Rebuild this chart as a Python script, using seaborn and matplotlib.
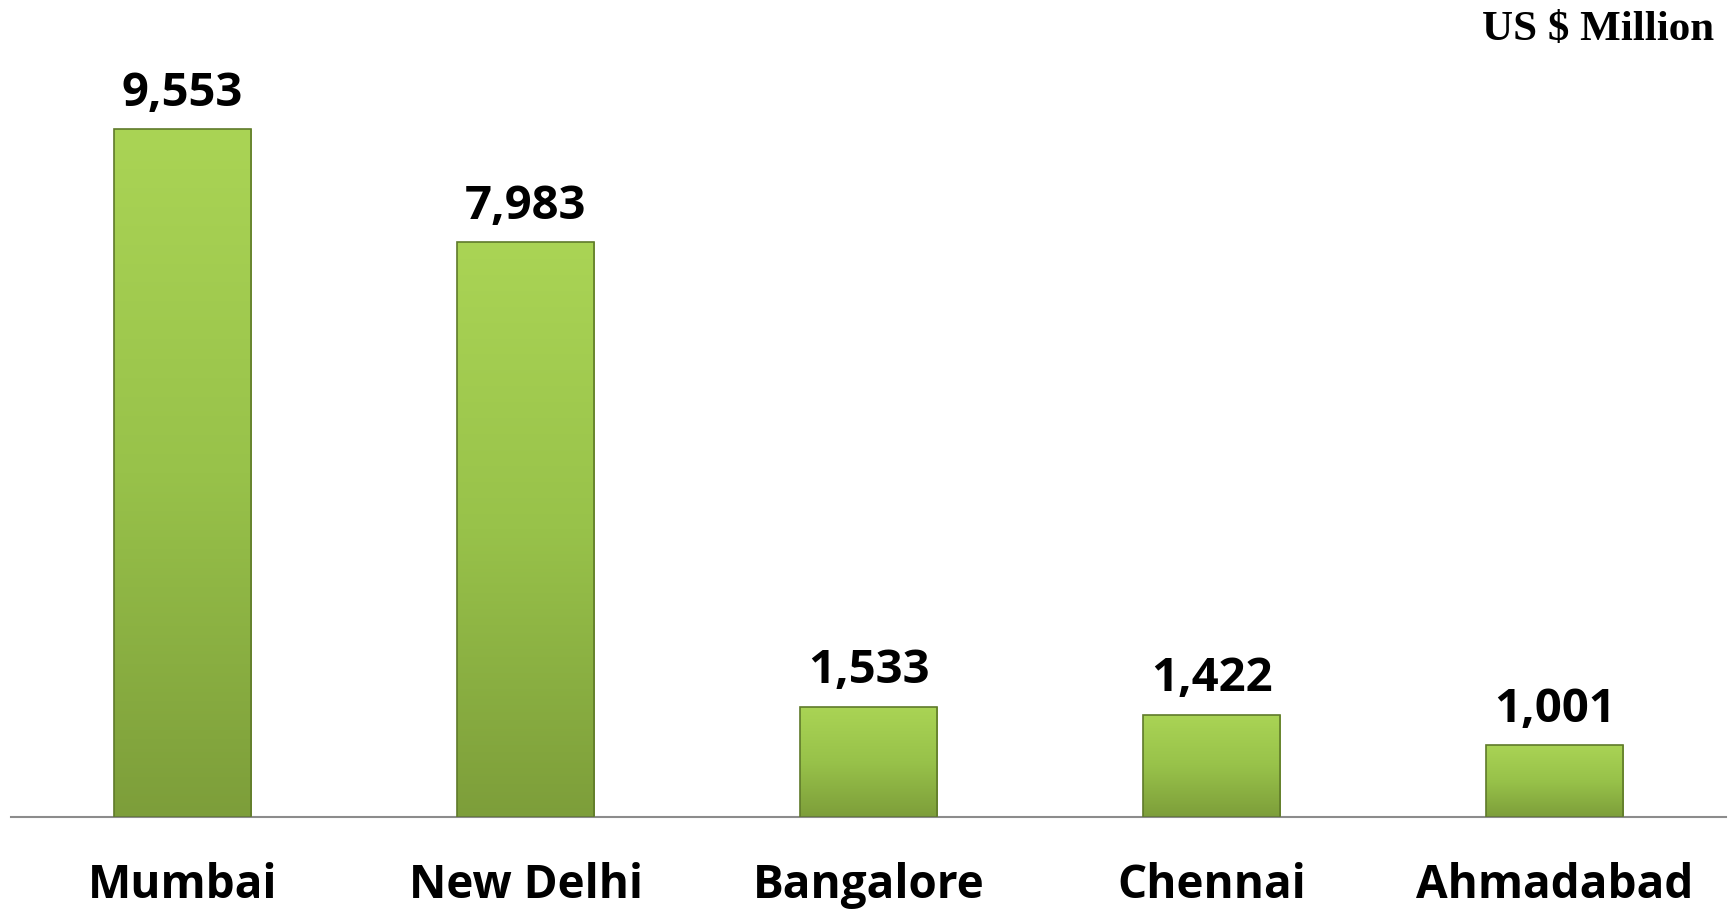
import numpy as np
import pandas as pd
import seaborn as sns
import matplotlib.pyplot as plt
from matplotlib.colors import LinearSegmentedColormap

# Data
cities = ['Mumbai', 'New Delhi', 'Bangalore', 'Chennai', 'Ahmadabad']
values = [9553, 7983, 1533, 1422, 1001]
unit_label = 'US $ Million'

df = pd.DataFrame({'city': cities, 'value': values})

sns.set_style('white')
plt.rcParams['font.family'] = ['Open Sans', 'DejaVu Sans']

fig = plt.figure(figsize=(17.31, 9.11), dpi=100)
ax = fig.add_axes([0.0064, 0.103, 0.9908, 0.897])

sns.barplot(data=df, x='city', y='value', color='#98c548', width=0.40, ax=ax)

# green gradient fill for each bar, lighter at top
cmap = LinearSegmentedColormap.from_list('grn', ['#7d9e3a', '#98c24a', '#aad455'])
grad = np.linspace(0, 1, 256).reshape(-1, 1)
for p in ax.patches:
    x0, y0 = p.get_x(), p.get_y()
    w, h = p.get_width(), p.get_height()
    p.set_facecolor('none')
    p.set_edgecolor('#5f7a2a')
    p.set_linewidth(1.2)
    im = ax.imshow(grad, cmap=cmap, origin='lower', aspect='auto',
                   extent=[x0, x0 + w, y0, y0 + h], zorder=2)
    im.set_clip_path(p)
    p.set_zorder(3)
    # value label
    ax.annotate(f'{int(h):,}', (x0 + w / 2, h), xytext=(0, 9),
                textcoords='offset points', ha='center', va='bottom',
                fontsize=34, fontweight='bold', color='black')

ax.set_xlim(-0.5, 4.5)
ax.set_ylim(0, 11350)
ax.set_xlabel('')
ax.set_ylabel('')
ax.set_yticks([])
ax.tick_params(axis='x', length=0, pad=32, labelsize=33, labelcolor='black')
for lbl in ax.get_xticklabels():
    lbl.set_fontweight('bold')

for s in ['top', 'right', 'left']:
    ax.spines[s].set_visible(False)
ax.spines['bottom'].set_color('#8c8c8c')
ax.spines['bottom'].set_linewidth(1.5)

fig.text(0.99, 0.967, unit_label, ha='right', va='center', color='black',
         fontsize=31, fontweight='bold', family=['Liberation Serif', 'DejaVu Serif'])

fig.savefig('out.png', dpi=100, facecolor='white')
